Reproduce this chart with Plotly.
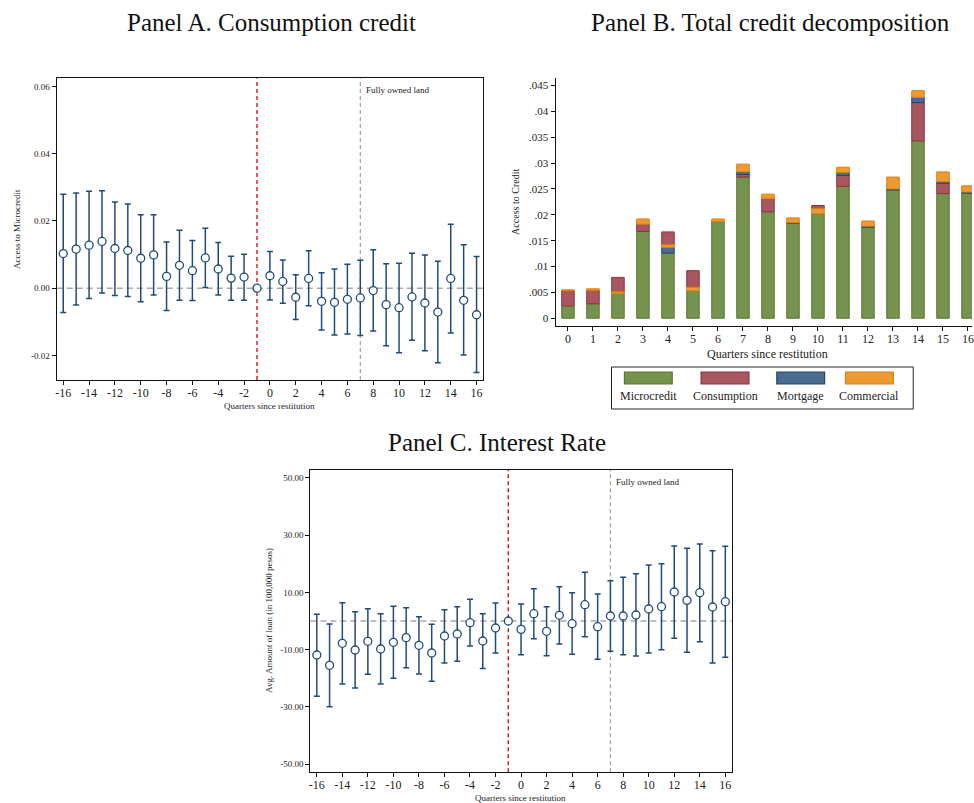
import plotly.graph_objects as go

# ---------------------------------------------------------------- data
quarters = list(range(-16, 17))

# Panel A: consumption credit event-study coefficients and 95% CI bounds
cons_coef = [0.0103, 0.0116, 0.0128, 0.0139, 0.0118, 0.0112, 0.0089, 0.0099,
             0.0035, 0.0068, 0.0052, 0.0090, 0.0057, 0.0030, 0.0033, 0.0,
             0.0037, 0.0020, -0.0027, 0.0029, -0.0039, -0.0042, -0.0033, -0.0029,
             -0.0007, -0.0049, -0.0058, -0.0026, -0.0044, -0.0071, 0.0029, -0.0036,
             -0.0079]
cons_hi = [0.0279, 0.0283, 0.0288, 0.0290, 0.0256, 0.0250, 0.0218, 0.0218,
           0.0137, 0.0172, 0.0142, 0.0178, 0.0136, 0.0095, 0.0101, None,
           0.0109, 0.0084, 0.0040, 0.0111, 0.0046, 0.0057, 0.0071, 0.0083,
           0.0114, 0.0073, 0.0074, 0.0104, 0.0099, 0.0080, 0.0190, 0.0129,
           0.0094]
cons_lo = [-0.0072, -0.0050, -0.0031, -0.0014, -0.0022, -0.0025, -0.0040, -0.0020,
           -0.0066, -0.0036, -0.0037, 0.0002, -0.0020, -0.0036, -0.0036, None,
           -0.0035, -0.0045, -0.0093, -0.0052, -0.0124, -0.0139, -0.0136, -0.0141,
           -0.0127, -0.0171, -0.0192, -0.0155, -0.0186, -0.0222, -0.0133, -0.0199,
           -0.0251]

# Panel C: interest rate / loan amount coefficients and CI bounds
rate_coef = [-11.86, -15.47, -7.79, -10.12, -7.09, -9.77, -7.44, -5.81,
             -8.49, -11.16, -5.23, -4.53, -0.58, -6.98, -2.44, 0.0,
             -2.91, 2.56, -3.60, 1.98, -0.93, 5.70, -1.98, 1.74,
             1.74, 2.09, 4.19, 5.00, 10.12, 7.21, 9.88, 4.88,
             6.74]
rate_hi = [2.33, -1.05, 6.40, 3.26, 4.30, 2.56, 5.12, 4.65,
           1.51, -1.16, 3.95, 5.00, 7.56, 2.56, 6.28, None,
           5.93, 11.28, 5.00, 11.98, 9.88, 16.98, 9.42, 14.07,
           15.23, 16.51, 19.53, 20.00, 26.16, 25.35, 26.86, 24.53,
           26.05]
rate_lo = [-26.30, -29.90, -21.98, -23.40, -18.60, -21.98, -20.00, -16.28,
           -18.50, -21.05, -14.65, -14.07, -8.72, -16.60, -11.16, None,
           -11.74, -6.16, -12.09, -8.02, -11.63, -5.47, -13.37, -10.58,
           -11.74, -12.21, -11.16, -10.00, -6.05, -10.93, -7.21, -14.65,
           -12.67]

# Panel B: credit decomposition by type, quarters 0..16
quarters_b = list(range(0, 17))
microcredit = [0.0024, 0.0028, 0.0048, 0.0168, 0.0126, 0.0053, 0.0187, 0.0273, 0.0206,
               0.0184, 0.0202, 0.0255, 0.0176, 0.0248, 0.0343, 0.0241, 0.0242]
consumption = [0.0029, 0.0026, 0.0028, 0.0014, 0.0025, 0.0032, 0.0, 0.0005, 0.0025,
               0.0, 0.0006, 0.0021, 0.0, 0.0, 0.0074, 0.0020, 0.0]
mortgage = [0.0, 0.0, 0.0, 0.0, 0.0011, 0.0, 0.0, 0.0005, 0.0,
            0.0001, 0.0, 0.0006, 0.0002, 0.0002, 0.0010, 0.0003, 0.0002]
commercial = [0.0002, 0.0003, 0.0003, 0.0010, 0.0005, 0.0007, 0.0005, 0.0015, 0.0009,
              0.0009, 0.0010, 0.0010, 0.0010, 0.0023, 0.0013, 0.0019, 0.0012]
# quarters where the consumption segment sits on top of the stack
consumption_on_top = [2, 4, 5, 10]

series_names = ["Microcredit", "Consumption", "Mortgage", "Commercial"]
fill_colors = ["#76924f", "#a8575f", "#4a6c8f", "#ec9a34"]
line_colors = ["#567a33", "#8a3342", "#25476b", "#e07f0e"]

x_ticks_ab = list(range(-16, 17, 2))
x_ticklabels_ab = [str(v) for v in x_ticks_ab]
a_yticks = [-0.02, 0.0, 0.02, 0.04, 0.06]
a_yticklabels = ["-0.02", "0.00", "0.02", "0.04", "0.06"]
b_yticks = [0, 0.005, 0.01, 0.015, 0.02, 0.025, 0.03, 0.035, 0.04, 0.045]
b_yticklabels = ["0", ".005", ".01", ".015", ".02", ".025", ".03", ".035", ".04", ".045"]
c_yticks = [-50, -30, -10, 10, 30, 50]
c_yticklabels = ["-50.00", "-30.00", "-10.00", "10.00", "30.00", "50.00"]

# ---------------------------------------------------------------- layout helpers
W, H = 974, 803
FONT = "Liberation Serif"
NAVY = "#1f4b7a"


def px(x):
    return x / W


def py(y):
    return 1 - y / H


def err_arrays(coef, lo, hi):
    plus, minus = [], []
    for c, l, h in zip(coef, lo, hi):
        if l is None or h is None:
            plus.append(float("nan"))
            minus.append(float("nan"))
        else:
            plus.append(h - c)
            minus.append(c - l)
    return plus, minus


fig = go.Figure()

# ---------------------------------------------------------------- Panel A
pa, ma = err_arrays(cons_coef, cons_lo, cons_hi)
fig.add_trace(go.Scatter(
    x=quarters, y=cons_coef, mode="markers", xaxis="x", yaxis="y",
    marker=dict(symbol="circle", size=8, color="white", line=dict(color=NAVY, width=1.3)),
    error_y=dict(type="data", array=pa, arrayminus=ma, symmetric=False,
                 color=NAVY, thickness=1.5, width=3),
    showlegend=False, hoverinfo="skip"))

# ---------------------------------------------------------------- Panel B
bases = {n: [] for n in series_names}
heights = {n: [] for n in series_names}
values = dict(zip(series_names, [microcredit, consumption, mortgage, commercial]))
for i, q in enumerate(quarters_b):
    if q in consumption_on_top:
        order = ["Microcredit", "Mortgage", "Commercial", "Consumption"]
    else:
        order = ["Microcredit", "Consumption", "Mortgage", "Commercial"]
    level = 0.0
    placed = {}
    for name in order:
        v = values[name][i]
        placed[name] = (level, v)
        level += v
    for name in series_names:
        b, v = placed[name]
        bases[name].append(b)
        heights[name].append(v if v > 0 else None)

for name, fc, lc in zip(series_names, fill_colors, line_colors):
    fig.add_trace(go.Bar(
        x=quarters_b, y=heights[name], base=bases[name], xaxis="x2", yaxis="y2",
        width=0.5, marker=dict(color=fc, line=dict(color=lc, width=1)),
        name=name, showlegend=False, hoverinfo="skip"))

# ---------------------------------------------------------------- Panel C
pc, mc = err_arrays(rate_coef, rate_lo, rate_hi)
fig.add_trace(go.Scatter(
    x=quarters, y=rate_coef, mode="markers", xaxis="x3", yaxis="y3",
    marker=dict(symbol="circle", size=8, color="white", line=dict(color=NAVY, width=1.3)),
    error_y=dict(type="data", array=pc, arrayminus=mc, symmetric=False,
                 color=NAVY, thickness=1.5, width=3),
    showlegend=False, hoverinfo="skip"))

# ---------------------------------------------------------------- axes
tick_font_small = dict(family=FONT, size=9, color="#222")
tick_font = dict(family=FONT, size=12, color="#222")

frame = dict(showline=True, linecolor="#111", linewidth=1.3, mirror=True,
             showgrid=False, zeroline=False, ticks="outside", ticklen=4,
             tickcolor="#111", tickwidth=1)

fig.update_layout(
    width=W, height=H, margin=dict(l=0, r=0, t=0, b=0),
    paper_bgcolor="white", plot_bgcolor="white",
    barmode="overlay", font=dict(family=FONT),
    xaxis=dict(domain=[px(55), px(483)], range=[-16.5, 16.5], anchor="y",
               tickvals=x_ticks_ab, ticktext=x_ticklabels_ab, tickfont=tick_font,
               ticklabelstandoff=-3, **frame),
    yaxis=dict(domain=[py(380), py(78.3)], range=[-0.0273, 0.0624], anchor="x",
               tickvals=a_yticks, ticktext=a_yticklabels, tickfont=tick_font_small, **frame),
    xaxis2=dict(domain=[px(556), 1.0], range=[-0.49, 16.16], anchor="y2",
                tickvals=quarters_b, tickfont=dict(family=FONT, size=12, color="#222"),
                ticklabeloverflow="allow", ticklabelstandoff=-3,
                showline=True, linecolor="#111",
                linewidth=1.3, showgrid=False, zeroline=False, ticks="outside",
                ticklen=4, tickcolor="#111"),
    yaxis2=dict(domain=[py(326), py(78.3)], range=[-0.0015, 0.0464], anchor="x2",
                tickvals=b_yticks, ticktext=b_yticklabels,
                tickfont=dict(family=FONT, size=11, color="#222"),
                showline=True, linecolor="#111", linewidth=1.3, showgrid=False,
                zeroline=False, ticks="outside", ticklen=4, tickcolor="#111"),
    xaxis3=dict(domain=[px(309.7), px(732.7)], range=[-16.5, 16.5], anchor="y3",
                tickvals=x_ticks_ab, ticktext=x_ticklabels_ab, tickfont=tick_font,
                ticklabelstandoff=-3, **frame),
    yaxis3=dict(domain=[py(772.3), py(470)], range=[-52.8, 52.7], anchor="x3",
                tickvals=c_yticks, ticktext=c_yticklabels, tickfont=tick_font_small, **frame),
)

# ---------------------------------------------------------------- reference lines
shapes = []
for xa, ya in (("x", "y"), ("x3", "y3")):
    shapes.append(dict(type="line", xref=f"{xa} domain", yref=ya, x0=0, x1=1, y0=0, y1=0,
                       line=dict(color="#a8a8a8", width=1.4, dash="6px,4px"), layer="below"))
    shapes.append(dict(type="line", xref=xa, yref=f"{ya} domain", x0=-1, x1=-1, y0=0, y1=1,
                       line=dict(color="#e01010", width=1.4, dash="4px,3px"), layer="below"))
    shapes.append(dict(type="line", xref=xa, yref=f"{ya} domain", x0=7, x1=7, y0=0, y1=1,
                       line=dict(color="#a0a0a0", width=1.2, dash="4px,3px"), layer="below"))

# Panel B legend box and swatches
shapes.append(dict(type="rect", xref="paper", yref="paper",
                   x0=px(612), x1=px(915), y0=py(409), y1=py(367),
                   line=dict(color="#222", width=1), fillcolor="white"))
swatch_x = [625, 702, 778, 847]
for sx, fc, lc in zip(swatch_x, fill_colors, line_colors):
    shapes.append(dict(type="rect", xref="paper", yref="paper",
                       x0=px(sx), x1=px(sx + 48), y0=py(384), y1=py(372),
                       line=dict(color=lc, width=1.2), fillcolor=fc))
fig.update_layout(shapes=shapes)

# ---------------------------------------------------------------- text
ann = []
title_font = dict(family=FONT, size=25, color="#111")
ann.append(dict(text="Panel A. Consumption credit", x=px(271), y=py(22), font=title_font))
ann.append(dict(text="Panel B. Total credit decomposition", x=px(772), y=py(22), font=title_font))
ann.append(dict(text="Panel C. Interest Rate", x=px(497), y=py(442), font=title_font))

small = dict(family=FONT, size=9, color="#222")
ann.append(dict(text="Access to Microcredit", x=px(15), y=py(229), textangle=-90, font=small))
ann.append(dict(text="Quarters since restitution", x=px(269), y=py(406), font=small))
ann.append(dict(text="Access to Credit", x=px(515), y=py(202), textangle=-90,
                font=dict(family=FONT, size=10, color="#222")))
ann.append(dict(text="Quarters since restitution", x=px(769), y=py(354),
                font=dict(family=FONT, size=12, color="#222")))
ann.append(dict(text="Avg. Amount of loan (in 100,000 pesos)", x=px(268), y=py(620),
                textangle=-90, font=small))
ann.append(dict(text="Quarters since restitution", x=px(521), y=py(798), font=small))

ann.append(dict(text="Fully owned land", x=7, xref="x", y=py(90), yref="paper",
                xanchor="left", xshift=4, font=small))
ann.append(dict(text="Fully owned land", x=7, xref="x3", y=py(482), yref="paper",
                xanchor="left", xshift=4, font=small))

for sx, name in zip(swatch_x, series_names):
    ann.append(dict(text=name, x=px(sx + 24), y=py(396),
                    font=dict(family=FONT, size=12, color="#222")))

for a in ann:
    a.setdefault("xref", "paper")
    a.setdefault("yref", "paper")
    a.setdefault("xanchor", "center")
    a.setdefault("yanchor", "middle")
    a["showarrow"] = False
fig.update_layout(annotations=ann)

fig.write_html("out.html")
